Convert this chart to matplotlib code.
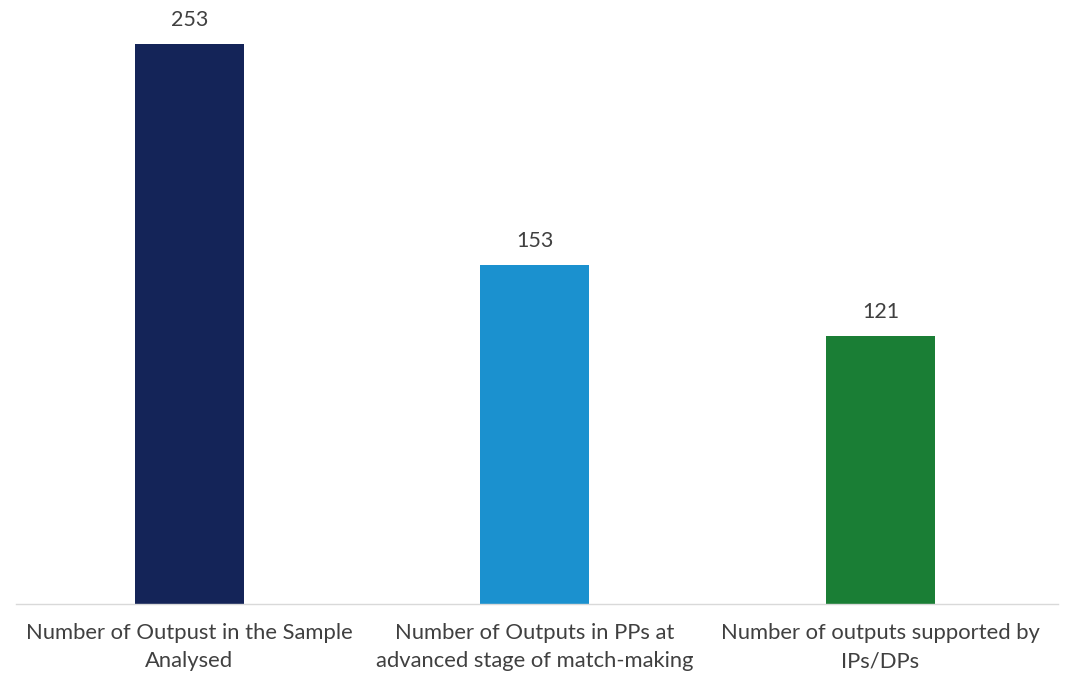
import matplotlib.pyplot as plt

# Данные диаграммы
categories = ['Number of Outpust in the Sample\nAnalysed',
              'Number of Outputs in PPs at\nadvanced stage of match-making',
              'Number of outputs supported by\nIPs/DPs']
values = [253, 153, 121]
colors = ['#142458', '#1B91CF', '#1A7E35']

plt.rcParams['font.family'] = ['Lato', 'DejaVu Sans']

fig = plt.figure(figsize=(10.76, 6.81), dpi=100)
ax = fig.add_axes([16 / 1076, 1 - 604 / 681, 1042 / 1076, 604 / 681])

x = range(len(values))
bars = ax.bar(x, values, width=0.3155, color=colors)
for b, v in zip(bars, values):
    ax.annotate(str(v), (b.get_x() + b.get_width() / 2, v),
                xytext=(0, 10), textcoords='offset points',
                ha='center', va='bottom', fontsize=15.5, color='#404040')

ax.set_xlim(-0.502, 2.514)
ax.set_ylim(0, 253 * 604 / 560)
ax.set_xticks(list(x))
ax.set_xticklabels(categories, fontsize=15.8, color='#404040', linespacing=1.5)
ax.tick_params(axis='x', length=0, pad=14)
ax.set_yticks([])
for side in ['top', 'right', 'left']:
    ax.spines[side].set_visible(False)
ax.spines['bottom'].set_color('#D9D9D9')
ax.spines['bottom'].set_linewidth(1)

fig.savefig('out.png', dpi=100)
